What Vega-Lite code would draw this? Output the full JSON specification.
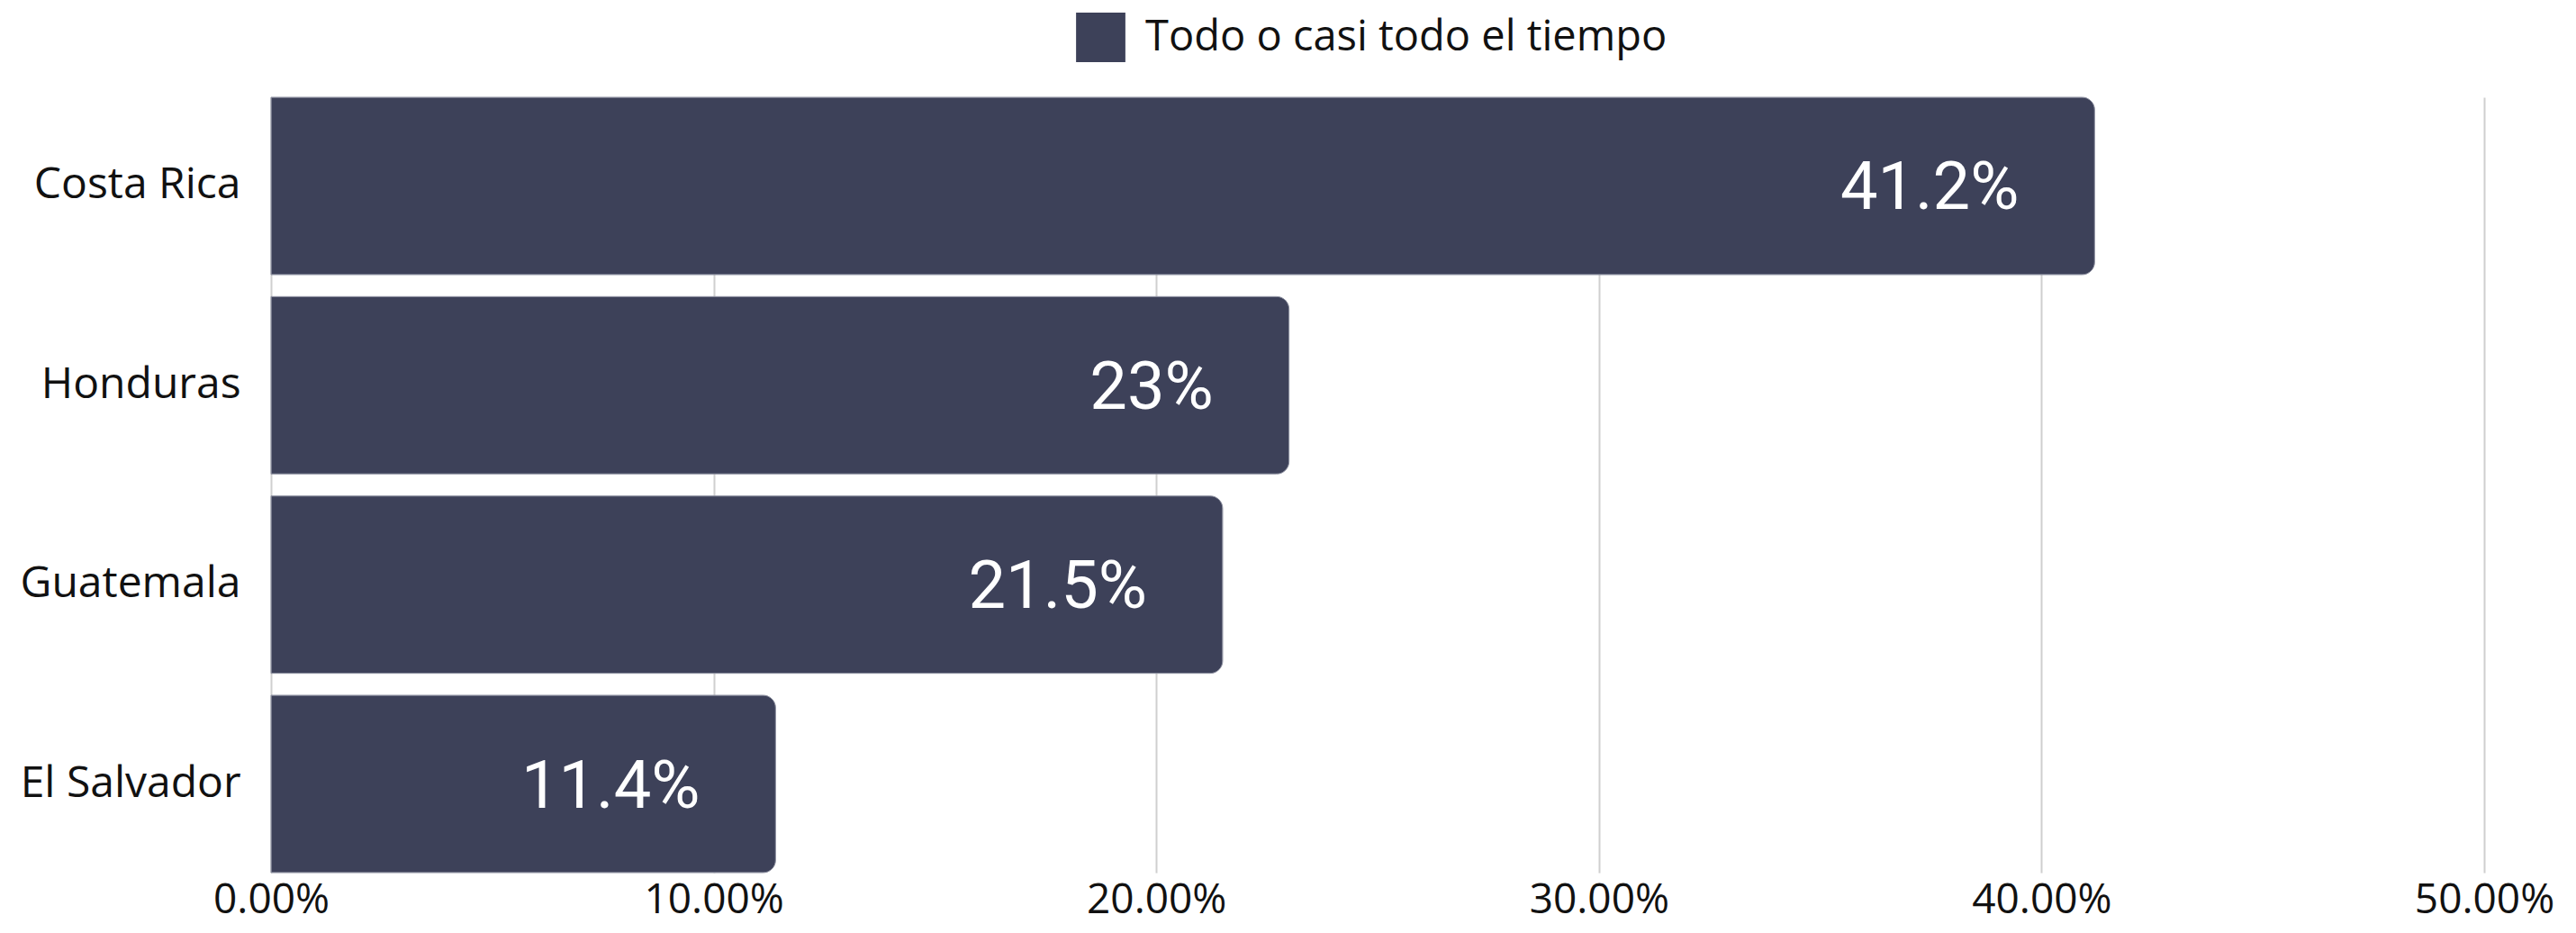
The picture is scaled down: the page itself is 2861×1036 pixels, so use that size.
{
  "$schema": "https://vega.github.io/schema/vega-lite/v6.json",
  "autosize": "none",
  "padding": {"left": 301, "top": 108, "right": 102, "bottom": 65},
  "width": 2458,
  "height": 861,
  "background": "white",
  "config": {"view": {"stroke": null}},
  "data": {"values": [
    {"pais": "Costa Rica", "valor": 0.412, "etiqueta": "41.2%", "serie": "Todo o casi todo el tiempo"},
    {"pais": "Honduras", "valor": 0.23, "etiqueta": "23%", "serie": "Todo o casi todo el tiempo"},
    {"pais": "Guatemala", "valor": 0.215, "etiqueta": "21.5%", "serie": "Todo o casi todo el tiempo"},
    {"pais": "El Salvador", "valor": 0.114, "etiqueta": "11.4%", "serie": "Todo o casi todo el tiempo"}
  ]},
  "encoding": {
    "y": {"field": "pais", "type": "nominal", "sort": null,
      "scale": {"paddingInner": 0.11, "paddingOuter": 0},
      "axis": {"title": null, "domain": false, "ticks": false, "grid": false, "labelFontSize": 48, "labelFont": "Open Sans", "labelColor": "#111111", "labelPadding": 34, "labelLimit": 0}},
    "x": {"field": "valor", "type": "quantitative",
      "scale": {"domain": [0, 0.5], "nice": false},
      "axis": {"title": null, "format": ".2%", "values": [0, 0.1, 0.2, 0.3, 0.4, 0.5], "domain": false, "ticks": false, "grid": true, "gridColor": "#cfcfcf", "gridWidth": 2, "labelFontSize": 46, "labelFont": "Open Sans", "labelColor": "#111111", "labelPadding": 8, "labelLimit": 0, "labelFlush": false}}
  },
  "layer": [
    {
      "mark": {"type": "bar", "cornerRadiusEnd": 14, "stroke": "#8d90a0", "strokeWidth": 1},
      "encoding": {
        "color": {"field": "serie", "type": "nominal",
          "scale": {"range": ["#3D4159"]},
          "legend": {"title": null, "orient": "none", "legendX": 894, "legendY": -94, "symbolType": "square", "symbolSize": 3000, "symbolStrokeWidth": 0, "labelFontSize": 47, "labelFont": "Open Sans", "labelColor": "#111111", "labelOffset": 22, "labelLimit": 0, "padding": 0}}
      }
    },
    {
      "mark": {"type": "text", "align": "right", "baseline": "middle", "dx": -84, "dy": 4, "color": "white", "fontSize": 74, "font": "Roboto"},
      "encoding": {"text": {"field": "etiqueta"}}
    }
  ]
}
